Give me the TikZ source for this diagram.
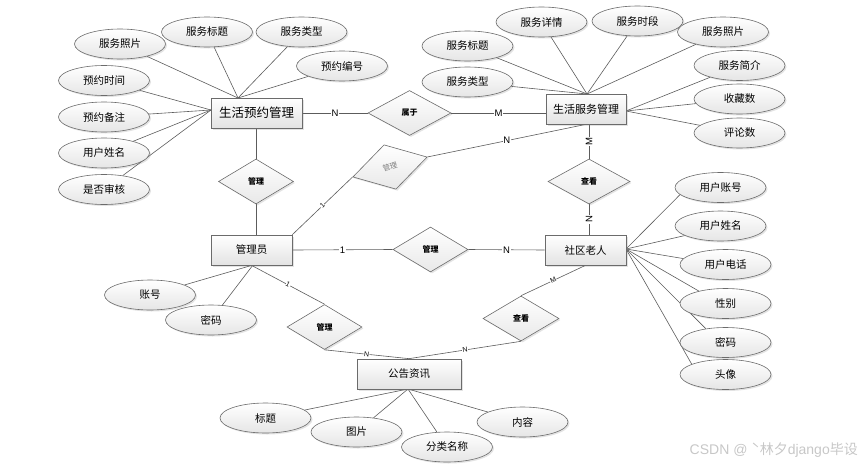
\documentclass[tikz,border=0pt]{standalone}
\usepackage{fontspec}
\setmainfont{Noto Sans CJK SC}
\newfontfamily\latinf{Liberation Sans}
\usetikzlibrary{shapes.geometric,shadows,calc}
\pgfdeclarelayer{bg}
\pgfsetlayers{bg,main}
\begin{document}
\begin{tikzpicture}[x=1pt,y=-1pt,
  ln/.style={draw=black!64, line width=0.6pt},
  shad/.style={drop shadow={opacity=0.22,shadow xshift=1.5pt,shadow yshift=-1.5pt}},
  ent/.style={rectangle, draw=black!58, line width=0.7pt, top color=white, bottom color=black!11,
    minimum width=81pt, minimum height=30pt, inner sep=0pt, shad, font=\fontsize{10.5}{12}\selectfont},
  att/.style={ellipse, draw=black!58, line width=0.6pt, top color=white, bottom color=black!10,
    minimum width=91pt, minimum height=30pt, inner sep=0pt, shad, font=\fontsize{10.5}{12}\selectfont},
  rel/.style={diamond, draw=black!58, line width=0.6pt, top color=white, bottom color=black!9,
    minimum width=75pt, minimum height=45pt, inner sep=0pt, shad, font=\fontsize{8}{9}\selectfont\bfseries},
  card/.style={fill=white, inner sep=0.6pt, font=\latinf\fontsize{9.5}{10}\selectfont},
  cards/.style={fill=white, inner sep=0.4pt, font=\latinf\fontsize{7}{8}\selectfont},
]
\useasboundingbox (0,0) rectangle (861,466);

% entities
\node[ent, minimum width=91pt, font=\fontsize{12.5}{14}\selectfont] (yy) at (256.5,113) {生活预约管理};
\node[ent, minimum width=80pt, font=\fontsize{11}{13}\selectfont] (sw) at (586,109) {生活服务管理};
\node[ent] (gly) at (251.5,250) {管理员};
\node[ent] (lr) at (585.5,250) {社区老人};
\node[ent, minimum width=104pt] (gg) at (409,374) {公告资讯};

% relations
\node[rel, minimum width=83pt] (sy) at (409.5,113) {属于};
\node[rel] (gl1) at (256,181.5) {管理};
\node[rel, minimum width=82pt] (ck1) at (589,181.5) {查看};
\node[rel, rotate=15, minimum width=77pt, minimum height=46pt, text=black!50,
  font=\fontsize{7.5}{9}\selectfont] (gl2) at (390,167) {管理};
\node[rel] (gl4) at (430.5,249.5) {管理};
\node[rel] (gl3) at (324.5,327) {管理};
\node[rel, minimum width=76pt] (ck2) at (521,318.5) {查看};

% attributes of 生活预约管理
\node[att] (a1) at (120,44) {服务照片};
\node[att] (a2) at (207,32) {服务标题};
\node[att] (a3) at (301.5,32) {服务类型};
\node[att] (a4) at (342,66) {预约编号};
\node[att] (a5) at (104,80.5) {预约时间};
\node[att] (a6) at (104,117) {预约备注};
\node[att] (a7) at (104,153) {用户姓名};
\node[att] (a8) at (104,189.5) {是否审核};

% attributes of 生活服务管理
\node[att] (b1) at (467.5,46) {服务标题};
\node[att] (b2) at (467.5,82) {服务类型};
\node[att] (b3) at (541.5,22) {服务详情};
\node[att] (b4) at (637.5,21) {服务时段};
\node[att] (b5) at (723,32) {服务照片};
\node[att] (b6) at (739.5,65.5) {服务简介};
\node[att] (b7) at (739.5,99) {收藏数};
\node[att] (b8) at (739.5,133) {评论数};

% attributes of 社区老人
\node[att] (c1) at (720.5,187.5) {用户账号};
\node[att] (c2) at (720.5,226) {用户姓名};
\node[att] (c3) at (725.5,264.5) {用户电话};
\node[att] (c4) at (725.5,303.5) {性别};
\node[att] (c5) at (725.5,342.5) {密码};
\node[att] (c6) at (725.5,374.5) {头像};

% attributes of 管理员
\node[att] (d1) at (150,295) {账号};
\node[att] (d2) at (211,320) {密码};

% attributes of 公告资讯
\node[att] (e1) at (265.5,418) {标题};
\node[att] (e2) at (356.5,432) {图片};
\node[att] (e3) at (447,447) {分类名称};
\node[att] (e4) at (522.5,422) {内容};

% attachment points
\coordinate (yyT) at (238,98);
\coordinate (yyL) at (211,110);
\coordinate (swT) at (587,94);
\coordinate (swR) at (626,111);
\coordinate (lrR) at (626,249);
\coordinate (glyB) at (253,265);
\coordinate (ggB) at (408,389);

\begin{pgfonlayer}{bg}
% attribute lines
\foreach \n in {a1,a2,a3,a4} \draw[ln] (\n) -- (yyT);
\foreach \n in {a5,a6,a7,a8} \draw[ln] (\n) -- (yyL);
\foreach \n in {b1,b2,b3,b4,b5} \draw[ln] (\n) -- (swT);
\foreach \n in {b6,b7,b8} \draw[ln] (\n) -- (swR);
\draw[ln] (c1.190) -- (lrR);
\draw[ln] (c2.195) -- (lrR);
\draw[ln] (c3.172) -- (lrR);
\draw[ln] (c4.155) -- (lrR);
\draw[ln] (c5.145) -- (lrR);
\draw[ln] (c6.163) -- (lrR);
\foreach \n in {d1,d2} \draw[ln] (\n) -- (glyB);
\foreach \n in {e1,e2,e3,e4} \draw[ln] (\n) -- (ggB);

% relationship lines
\draw[ln] (yy.east) -- node[card]{N} (sy.west);
\draw[ln] (sy.east) -- node[card]{M} (sy.east -| sw.west);
\draw[ln] (gl1.north |- yy.south) -- (gl1.north);
\draw[ln] (gl1.south) -- (gl1.south |- gly.north);
\draw[ln] (gly.north east) -- node[cards,sloped]{1} (gl2.west);
\draw[ln] (gl2.east) -- node[card]{N} (sw.south);
\draw[ln] (ck1.north |- sw.south) -- node[card,rotate=90]{M} (ck1.north);
\draw[ln] (ck1.south) -- node[card,rotate=90]{N} (ck1.south |- lr.north);
\draw[ln] (gly.east) -- node[card]{1} (gl4.west);
\draw[ln] (gl4.east) -- node[card]{N} (lr.west);
\draw[ln] (gly.south) -- node[cards,sloped]{1} (gl3.north);
\draw[ln] (gl3.south) -- node[cards,sloped]{N} (gg.north);
\draw[ln] (lr.south) -- node[cards,sloped]{M} (ck2.north);
\draw[ln] (ck2.south) -- node[cards,sloped]{N} (gg.north);
\end{pgfonlayer}

% watermark
\node[anchor=east, text=black!22, inner sep=0pt, font=\fontsize{14}{16}\selectfont] (wm) at (858,450)
  {{\latinf CSDN @ }ˋ林夕{\latinf django}毕设};
\end{tikzpicture}
\end{document}
